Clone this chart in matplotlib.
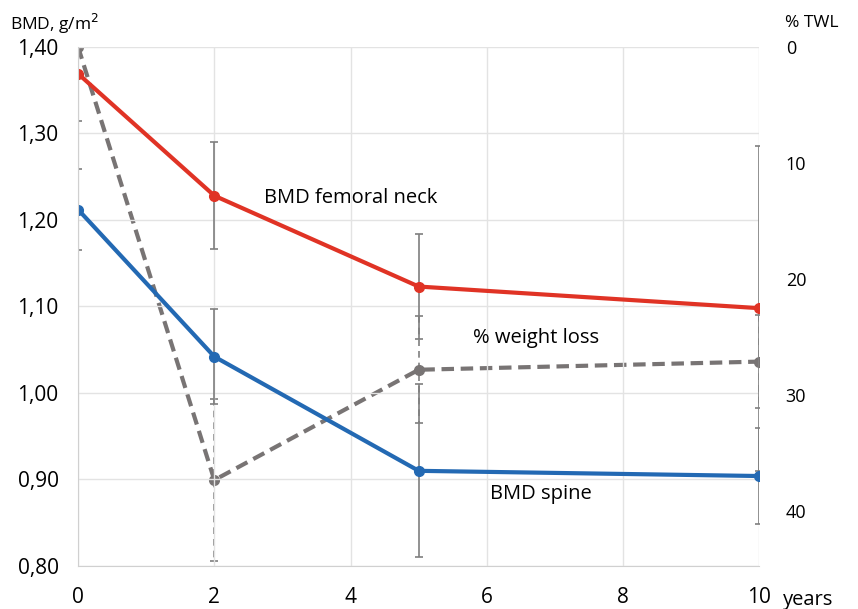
import numpy as np
import matplotlib.pyplot as plt

plt.rcParams['font.family'] = ['Open Sans', 'DejaVu Sans']

years = [0, 2, 5, 10]
neck = [1.369, 1.228, 1.123, 1.098]
neck_err = [0.055, 0.062, 0.061, 0.188]
spine = [1.212, 1.042, 0.910, 0.904]
spine_err = [0.047, 0.055, 0.100, 0.055]
twl = [0.0, 37.3, 27.8, 27.1]
twl_err = [0.0, 7.0, 4.6, 4.0]

red = '#E03325'
blue = '#2369B3'
grey = '#787474'
ebar = '#7F7F7F'

fig = plt.figure(figsize=(8.58, 6.09), dpi=100)
ax = fig.add_axes([0.091, 0.0706, 0.794, 0.8524])
ax2 = ax.twinx()

# weight loss on the right axis (inverted)
e = ax2.errorbar(years, twl, yerr=twl_err, color=grey, lw=3, ls=(0, (3, 1.6)),
                 marker='o', ms=7, ecolor=ebar, elinewidth=1.2, capsize=3, capthick=1.2, zorder=2)
for c in e[2]:
    c.set_linestyle((0, (4, 3)))
ax2.set_ylim(44.7, 0)
ax2.set_yticks([0, 10, 20, 30, 40])
ax2.tick_params(axis='y', length=0, labelsize=13, pad=19)
for s in ax2.spines.values():
    s.set_visible(False)

ax.set_zorder(ax2.get_zorder() + 1)
ax.patch.set_visible(False)

ax.errorbar(years, neck, yerr=neck_err, color=red, lw=3, marker='o', ms=7,
            ecolor=ebar, elinewidth=1.2, capsize=3, capthick=1.2)
ax.errorbar(years, spine, yerr=spine_err, color=blue, lw=3, marker='o', ms=7,
            ecolor=ebar, elinewidth=1.2, capsize=3, capthick=1.2)

ax.set_xlim(0, 10)
ax.set_ylim(0.80, 1.40)
ax.set_xticks([0, 2, 4, 6, 8, 10])
ax.set_yticks(np.arange(0.80, 1.401, 0.10))
ax.set_yticklabels([f'{v:.2f}'.replace('.', ',') for v in np.arange(0.80, 1.401, 0.10)])
ax.tick_params(length=0, labelsize=15)
ax.tick_params(axis='y', pad=14)
ax.tick_params(axis='x', pad=15)
ax.grid(True, color='#E3E3E3', lw=1)
ax.set_axisbelow(True)
for side in ['top', 'right']:
    ax.spines[side].set_visible(False)
for side in ['left', 'bottom']:
    ax.spines[side].set_color('#D0D0D0')

ax.text(2.73, 1.225, 'BMD femoral neck', fontsize=14.5, va='center')
ax.text(5.79, 1.064, '% weight loss', fontsize=14.5, va='center')
ax.text(6.05, 0.883, 'BMD spine', fontsize=14.5, va='center')

fig.text(0.012, 0.960, 'BMD, g/m$^2$', fontsize=12.5, va='center')
fig.text(0.915, 0.963, '% TWL', fontsize=12.5, va='center')
fig.text(0.913, 0.014, 'years', fontsize=14.5, va='center')

fig.savefig('out.png', dpi=100)
